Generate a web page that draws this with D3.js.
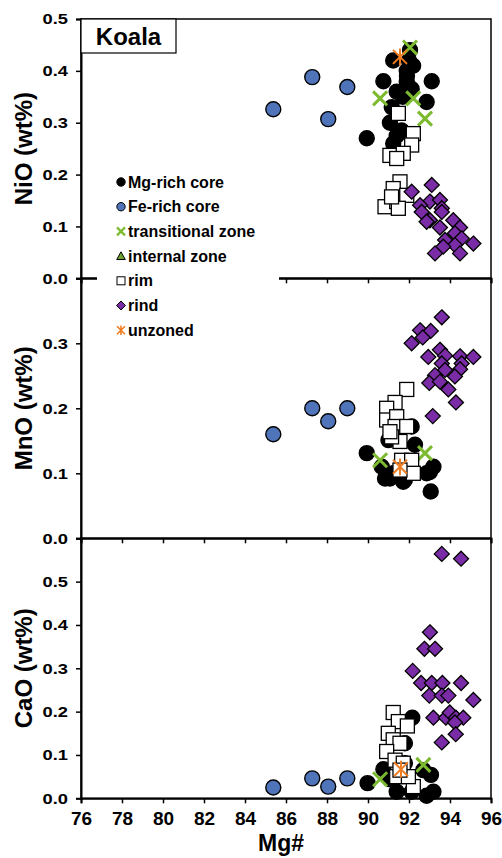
<!DOCTYPE html>
<html>
<head>
<meta charset="utf-8">
<script src="https://cdn.jsdelivr.net/npm/d3@7"></script>
<style>
  html, body { margin: 0; padding: 0; background: #fff; }
  svg { display: block; font-family: "Liberation Sans", Arial, sans-serif; font-weight: bold; }
</style>
</head>
<body>
<svg id="chart" width="502" height="858"></svg>
<script>
// ---------------- DATA ----------------
const xTicks = [76, 78, 80, 82, 84, 86, 88, 90, 92, 94, 96];
const niTicks = [0, 0.1, 0.2, 0.3, 0.4, 0.5];
const mnTicks = [0, 0.1, 0.2, 0.3];
const caTicks = [0, 0.1, 0.2, 0.3, 0.4, 0.5];
const seriesNames = ["Mg-rich core", "Fe-rich core", "transitional zone", "internal zone", "rim", "rind", "unzoned"];

// Mg-rich core [Mg#, value]
const mgCoreNiO = [[91.23,0.42],[92.05,0.44],[91.89,0.40],[92.2,0.41],[92.0,0.42],[90.75,0.38],[93.11,0.38],[91.89,0.38],
  [91.4,0.36],[92.13,0.365],[91.95,0.355],[92.86,0.34],[91.16,0.33],[91.07,0.30],[89.94,0.27],[91.4,0.275],
  [91.64,0.285],[91.23,0.26],[91.7,0.35],[91.9,0.39]];
const mgCoreMnO = [[89.94,0.131],[90.67,0.11],[91.07,0.092],[90.83,0.092],[91.23,0.10],[91.8,0.09],[91.72,0.087],
  [93.19,0.11],[92.86,0.10],[93.02,0.102],[93.06,0.072],[92.13,0.172],[91.0,0.151],[92.29,0.144]];
const mgCoreCaO = [[92.16,0.186],[91.8,0.127],[89.98,0.035],[90.75,0.067],[91.07,0.044],[91.4,0.015],[92.13,0.015],
  [92.86,0.006],[93.19,0.015],[93.07,0.054],[92.7,0.065],[91.8,0.081]];

// Fe-rich core
const feCoreNiO = [[85.38,0.326],[87.28,0.388],[88.06,0.307],[88.99,0.369]];
const feCoreMnO = [[85.38,0.16],[87.28,0.20],[88.06,0.18],[88.99,0.20]];
const feCoreCaO = [[85.38,0.025],[87.28,0.046],[88.06,0.027],[88.99,0.046]];

// transitional zone
const transNiO = [[92.05,0.445],[90.59,0.347],[92.21,0.347],[92.78,0.308]];
const transMnO = [[90.59,0.12],[92.78,0.131]];
const transCaO = [[90.59,0.044],[92.7,0.077]];

// internal zone (legend only)
const internalNiO = [];
const internalMnO = [];
const internalCaO = [];

// rim
const rimNiO = [[91.48,0.318],[92.21,0.279],[92.13,0.257],[91.07,0.237],[91.72,0.241],[91.4,0.231],[91.56,0.186],
  [91.23,0.173],[90.83,0.138],[91.4,0.148],[91.89,0.16],[91.48,0.135],[91.15,0.157]];
const rimMnO = [[91.89,0.229],[91.32,0.209],[90.91,0.20],[90.91,0.182],[91.4,0.187],[91.32,0.172],[91.89,0.172],
  [91.56,0.149],[91.15,0.156],[91.07,0.164],[91.64,0.12],[92.13,0.12],[92.21,0.10],[91.56,0.105]];
const rimCaO = [[91.23,0.198],[91.48,0.177],[91.92,0.167],[90.99,0.15],[91.23,0.135],[91.56,0.127],[90.91,0.108],
  [91.32,0.088],[91.72,0.081],[91.4,0.05],[92.21,0.027],[91.97,0.05],[91.56,0.065]];

// rind
const rindNiO = [[93.11,0.18],[92.13,0.167],[93.02,0.148],[93.51,0.151],[92.54,0.141],[93.6,0.135],[92.62,0.128],
  [93.6,0.128],[93.02,0.112],[92.86,0.109],[93.51,0.098],[94.16,0.112],[94.49,0.098],[94.24,0.087],[94.57,0.077],
  [93.76,0.074],[95.14,0.067],[94.24,0.064],[93.67,0.061],[93.27,0.048],[94.49,0.048]];
const rindMnO = [[93.6,0.34],[92.54,0.32],[93.06,0.319],[92.67,0.309],[92.13,0.30],[92.94,0.279],[93.51,0.29],
  [93.76,0.281],[94.49,0.28],[95.14,0.279],[93.6,0.269],[94.57,0.269],[93.76,0.259],[94.49,0.26],[93.27,0.251],
  [94.24,0.249],[92.99,0.239],[93.51,0.241],[93.92,0.229],[94.29,0.209],[93.16,0.188]];
const rindCaO = [[93.6,0.564],[94.54,0.553],[93.02,0.383],[92.75,0.345],[93.27,0.345],[92.18,0.294],[92.59,0.266],
  [93.11,0.266],[93.63,0.266],[94.54,0.266],[92.99,0.237],[93.6,0.237],[93.92,0.237],[95.14,0.227],[93.19,0.186],
  [93.8,0.186],[93.99,0.198],[94.29,0.186],[94.65,0.186],[94.24,0.175],[93.6,0.129],[94.28,0.148]];

// unzoned
const unzonedNiO = [[91.56,0.427]];
const unzonedMnO = [[91.56,0.11]];
const unzonedCaO = [[91.61,0.067]];

// ---------------- STYLE / LAYOUT ----------------
const colors = {
  black: "#000000", blue: "#4f74b9", green: "#7cba2f", tri: "#6e9e2c",
  purple: "#7a2ca6", orange: "#f07d22"
};

const svg = d3.select("#chart");
const x = d3.scaleLinear().domain([76, 96]).range([81, 491]);

const panels = [
  { title: "NiO (wt%)", y: d3.scaleLinear().domain([0, 0.5]).range([278.3, 19]), ticks: niTicks, key: "NiO" },
  { title: "MnO (wt%)", y: d3.scaleLinear().domain([0, 0.4]).range([538.3, 278.3]), ticks: mnTicks, key: "MnO" },
  { title: "CaO (wt%)", y: d3.scaleLinear().domain([0, 0.6]).range([798.3, 538.3]), ticks: caTicks, key: "CaO" }
];

const seriesData = [
  { name: seriesNames[0], marker: "circle", fill: colors.black, NiO: mgCoreNiO, MnO: mgCoreMnO, CaO: mgCoreCaO },
  { name: seriesNames[1], marker: "circle", fill: colors.blue, NiO: feCoreNiO, MnO: feCoreMnO, CaO: feCoreCaO },
  { name: seriesNames[2], marker: "x", fill: colors.green, NiO: transNiO, MnO: transMnO, CaO: transCaO },
  { name: seriesNames[3], marker: "triangle", fill: colors.tri, NiO: internalNiO, MnO: internalMnO, CaO: internalCaO },
  { name: seriesNames[4], marker: "square", fill: "#ffffff", NiO: rimNiO, MnO: rimMnO, CaO: rimCaO },
  { name: seriesNames[5], marker: "diamond", fill: colors.purple, NiO: rindNiO, MnO: rindMnO, CaO: rindCaO },
  { name: seriesNames[6], marker: "star", fill: colors.orange, NiO: unzonedNiO, MnO: unzonedMnO, CaO: unzonedCaO }
];

function drawMarker(g, type, fill, s) {
  if (type === "circle") {
    g.append("circle").attr("r", s).attr("fill", fill).attr("stroke", "#000").attr("stroke-width", s > 5 ? 1.4 : 1);
  } else if (type === "square") {
    g.append("rect").attr("x", -s).attr("y", -s).attr("width", 2 * s).attr("height", 2 * s)
      .attr("fill", fill).attr("stroke", "#000").attr("stroke-width", s > 5 ? 1.3 : 1);
  } else if (type === "diamond") {
    g.append("path").attr("d", `M0,${-s}L${s},0L0,${s}L${-s},0Z`)
      .attr("fill", fill).attr("stroke", "#000").attr("stroke-width", s > 5 ? 1.3 : 1);
  } else if (type === "triangle") {
    g.append("path").attr("d", `M0,${-s}L${s},${s * 0.8}L${-s},${s * 0.8}Z`)
      .attr("fill", fill).attr("stroke", "#000").attr("stroke-width", 1);
  } else if (type === "x") {
    g.append("path").attr("d", `M${-s},${-s}L${s},${s}M${-s},${s}L${s},${-s}`)
      .attr("stroke", fill).attr("stroke-width", s > 5 ? 3 : 2.2).attr("fill", "none");
  } else if (type === "star") {
    g.append("path").attr("d", `M${-s},${-s}L${s},${s}M${-s},${s}L${s},${-s}M0,${-s * 1.2}L0,${s * 1.2}`)
      .attr("stroke", fill).attr("stroke-width", s > 5 ? 2 : 1.6).attr("fill", "none");
  }
}

const markerSize = { circle: 7.5, square: 7, diamond: 7.5, triangle: 7, x: 7, star: 7 };

panels.forEach((p, i) => {
  const gp = svg.append("g");
  const [y0, y1] = p.y.range();
  gp.append("rect").attr("x", 81).attr("y", y1).attr("width", 410).attr("height", y0 - y1)
    .attr("fill", "none").attr("stroke", "#000").attr("stroke-width", 1.5);

  const ya = gp.append("g").attr("transform", "translate(81,0)")
    .call(d3.axisLeft(p.y).tickValues(p.ticks).tickSize(5).tickPadding(8).tickFormat(d3.format(".1f")));
  ya.select(".domain").attr("stroke-width", 2);
  ya.selectAll(".tick line").attr("stroke-width", 1.5);
  ya.selectAll("text").attr("font-size", 15).attr("font-weight", "bold")
    .attr("font-family", "Liberation Sans, Arial, sans-serif").attr("fill", "#000")
    .each(function () {
      const w = this.getComputedTextLength();
      d3.select(this).attr("textLength", w * 1.22).attr("lengthAdjust", "spacingAndGlyphs");
    });

  const xa = gp.append("g").attr("transform", `translate(0,${y0})`)
    .call(d3.axisBottom(x).tickValues(xTicks).tickSize(5).tickPadding(8)
      .tickFormat(i === 2 ? d3.format("d") : () => ""));
  xa.select(".domain").attr("stroke-width", 2);
  xa.selectAll(".tick line").attr("stroke-width", 1.5);
  xa.selectAll("text").attr("font-size", 19).attr("font-weight", "bold")
    .attr("font-family", "Liberation Sans, Arial, sans-serif").attr("fill", "#000");

  gp.append("text").attr("transform", `translate(32,${(y0 + y1) / 2}) rotate(-90)`)
    .attr("text-anchor", "middle").attr("font-size", 24).attr("font-weight", "bold").text(p.title);

  seriesData.forEach(s => {
    const gs = gp.append("g");
    s[p.key].forEach(d => {
      const g = gs.append("g").attr("transform", `translate(${x(d[0])},${p.y(d[1])})`);
      drawMarker(g, s.marker, s.fill, markerSize[s.marker]);
    });
  });
});

// x axis title
svg.append("text").attr("x", 281).attr("y", 851).attr("text-anchor", "middle")
  .attr("font-size", 23).attr("font-weight", "bold").text("Mg#");

// Koala box
svg.append("rect").attr("x", 81).attr("y", 19).attr("width", 95).attr("height", 34)
  .attr("fill", "#fff").attr("stroke", "#000").attr("stroke-width", 1.2);
svg.append("text").attr("x", 128.5).attr("y", 45).attr("text-anchor", "middle")
  .attr("font-size", 24).attr("font-weight", "bold").text("Koala");

// legend
const lg = svg.append("g");
lg.append("rect").attr("x", 97).attr("y", 169).attr("width", 182).attr("height", 172).attr("fill", "#fff");
const legMs = { circle: 4.2, square: 4, diamond: 4.5, triangle: 4.3, x: 4, star: 4 };
seriesData.forEach((s, i) => {
  const cy = 182 + i * 24.7;
  const g = lg.append("g").attr("transform", `translate(121,${cy})`);
  drawMarker(g, s.marker, s.fill, legMs[s.marker]);
  lg.append("text").attr("x", 128).attr("y", cy + 5.5).attr("font-size", 16).attr("font-weight", "bold").text(s.name);
});
</script>
</body>
</html>
